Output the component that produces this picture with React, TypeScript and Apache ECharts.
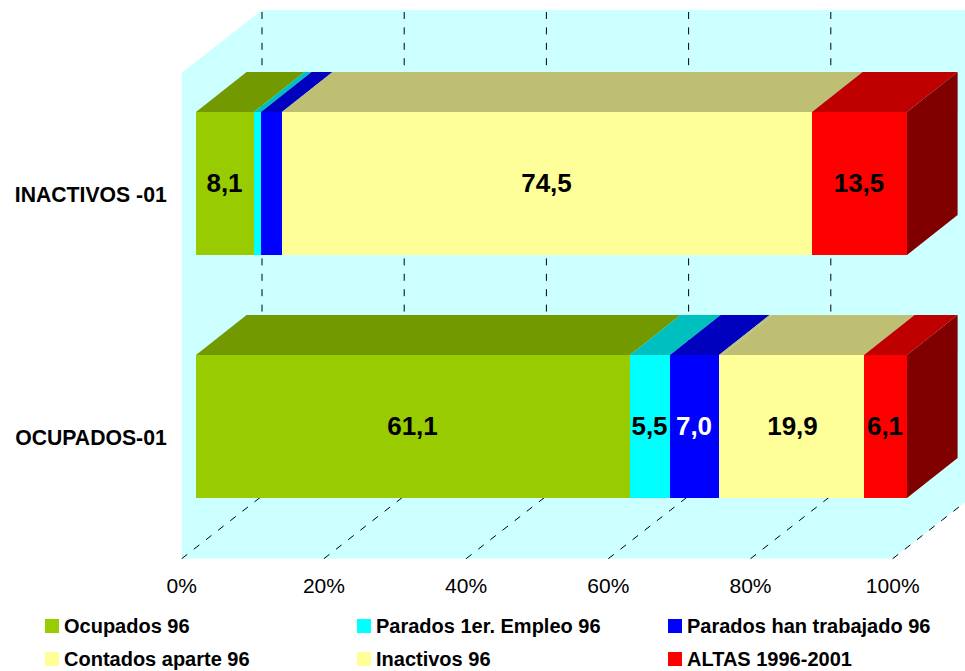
import React, { useEffect, useRef } from "react";
import * as echarts from "echarts";

// Bottom-to-top order of the horizontal bars
const categories = ["OCUPADOS-01", "INACTIVOS -01"];

const ocupados96 = [61.1, 8.1];
const paradosPrimerEmpleo96 = [5.5, 1.0];
const paradosHanTrabajado96 = [7.0, 3.0];
const contadosAparte96 = [0.4, 0];
const inactivos96 = [19.9, 74.5];
const altas = [6.1, 13.5];

const xTicks = [0, 20, 40, 60, 80, 100];

const segments = [
  { name: "Ocupados 96", values: ocupados96, front: "#99CC00", top: "#739900", label: "#000000" },
  { name: "Parados 1er. Empleo 96", values: paradosPrimerEmpleo96, front: "#00FFFF", top: "#00BFBF", label: "#000000" },
  { name: "Parados han trabajado 96", values: paradosHanTrabajado96, front: "#0000FF", top: "#0000BF", label: "#FFFFFF" },
  { name: "Contados aparte 96", values: contadosAparte96, front: "#FFFF99", top: "#BFBF73", label: "#000000" },
  { name: "Inactivos 96", values: inactivos96, front: "#FFFF99", top: "#BFBF73", label: "#000000" },
  { name: "ALTAS 1996-2001", values: altas, front: "#FF0000", top: "#BF0000", label: "#000000" },
];

// Oblique projection of the box: the full floor depth, and the part the bars occupy
const FLOOR_DX = 80.3;
const FLOOR_DY = 62.7;
const BAR_INSET_DX = 14.3;
const BAR_INSET_DY = 11;
const BAR_DX = 50.6;
const BAR_DY = 40;
const BAR_HEIGHT = 143;
const SIDE_COLOR = "#800000";
const WALL_COLOR = "#CCFFFF";
const WALL_TOP = 10;
const MIN_LABELLED = 5;
const FONT = "'Liberation Sans', Arial, sans-serif";

const formatValue = (v: number) => v.toFixed(1).replace(".", ",");

const renderWalls = (params: any, api: any) => {
  const { x, y, width, height } = params.coordSys;
  const floor = y + height;
  return {
    type: "polygon",
    silent: true,
    shape: {
      points: [
        [x, y],
        [x + FLOOR_DX, WALL_TOP],
        [x + width + FLOOR_DX, WALL_TOP],
        [x + width + FLOOR_DX, floor - FLOOR_DY],
        [x + width, floor],
        [x, floor],
      ],
    },
    style: { fill: WALL_COLOR },
  };
};

const renderGridLine = (params: any, api: any) => {
  const { y, height } = params.coordSys;
  const floor = y + height;
  const px = api.coord([api.value(0), 0])[0];
  const lineStyle = { stroke: "#000000", lineWidth: 1, lineDash: [7, 8.4], fill: "none" };
  return {
    type: "group",
    silent: true,
    children: [
      {
        type: "line",
        shape: { x1: px, y1: floor, x2: px + FLOOR_DX, y2: floor - FLOOR_DY },
        style: lineStyle,
      },
      {
        type: "line",
        shape: { x1: px + FLOOR_DX, y1: WALL_TOP + 2, x2: px + FLOOR_DX, y2: floor - FLOOR_DY },
        style: lineStyle,
      },
    ],
  };
};

const renderSegment = (seg: (typeof segments)[number], isLast: boolean) => (params: any, api: any) => {
  const start = api.value(0);
  const row = api.value(1);
  const value = api.value(2);
  const [x0, cy] = api.coord([start, row]);
  // The stack is a share of the total, so it stops at the 100% end of the axis
  const [x1] = api.coord([Math.min(start + value, 100), row]);
  // Whole-pixel edges keep the faces crisp
  const left = Math.round(x0 + BAR_INSET_DX);
  const right = Math.round(x1 + BAR_INSET_DX);
  const top = Math.round(cy - BAR_INSET_DY - BAR_HEIGHT / 2);
  const bottom = top + BAR_HEIGHT;
  const children: any[] = [];
  if (value > 0) {
    children.push({
      type: "polygon",
      shape: {
        points: [
          [left, top],
          [left + BAR_DX, top - BAR_DY],
          [right + BAR_DX, top - BAR_DY],
          [right, top],
        ],
      },
      style: { fill: seg.top },
    });
    children.push({
      type: "rect",
      shape: { x: left, y: top, width: right - left, height: BAR_HEIGHT },
      style: { fill: seg.front },
    });
  }
  if (isLast) {
    children.push({
      type: "polygon",
      shape: {
        points: [
          [right, top],
          [right + BAR_DX, top - BAR_DY],
          [right + BAR_DX, bottom - BAR_DY],
          [right, bottom],
        ],
      },
      style: { fill: SIDE_COLOR },
    });
  }
  if (value >= MIN_LABELLED) {
    children.push({
      type: "text",
      x: (left + right) / 2 - 0.5,
      y: (top + bottom) / 2 - 0.5,
      style: {
        text: formatValue(value),
        fill: seg.label,
        fontFamily: FONT,
        fontSize: 26,
        fontWeight: "bold",
        align: "center",
        verticalAlign: "middle",
      },
    });
  }
  return { type: "group", children };
};

const legendRows = (names: string[], left: number) => ({
  show: true,
  orient: "vertical" as const,
  left,
  top: 616,
  padding: 0,
  itemWidth: 14,
  itemHeight: 14,
  itemGap: 13,
  icon: "rect",
  data: names,
  textStyle: { fontFamily: FONT, fontSize: 20, fontWeight: "bold" as const, color: "#000000" },
  selectedMode: false,
});

export default function App() {
  const ref = useRef<HTMLDivElement>(null);

  useEffect(() => {
    if (!ref.current) return;
    const chart = echarts.init(ref.current, undefined, { renderer: "svg" });

    const running = categories.map(() => 0);
    const barSeries = segments.map((seg, i) => {
      const data = seg.values.map((v, row) => {
        const item = [running[row], row, v];
        running[row] += v;
        return item;
      });
      return {
        type: "custom" as const,
        name: seg.name,
        coordinateSystem: "cartesian2d",
        itemStyle: { color: seg.front },
        encode: { x: 0, y: 1 },
        renderItem: renderSegment(seg, i === segments.length - 1),
        data,
      };
    });

    chart.setOption({
      animation: false,
      backgroundColor: "#FFFFFF",
      grid: { left: 181.7, top: 72.7, width: 711, height: 486, containLabel: false },
      xAxis: {
        type: "value",
        min: 0,
        max: 100,
        interval: 20,
        axisLine: { show: false },
        axisTick: { show: false },
        splitLine: { show: false },
        axisLabel: {
          formatter: "{value}%",
          margin: 16,
          fontFamily: FONT,
          fontSize: 21,
          color: "#000000",
        },
      },
      yAxis: {
        type: "category",
        data: categories,
        axisLine: { show: false },
        axisTick: { show: false },
        splitLine: { show: false },
        axisLabel: {
          margin: 15,
          padding: [0, 0, 4, 0],
          fontFamily: FONT,
          fontSize: 21.2,
          fontWeight: "bold",
          color: "#000000",
        },
      },
      legend: [
        legendRows(["Ocupados 96", "Contados aparte 96"], 45),
        legendRows(["Parados 1er. Empleo 96", "Inactivos 96"], 357),
        legendRows(["Parados han trabajado 96", "ALTAS 1996-2001"], 668),
      ],
      series: [
        {
          type: "custom",
          silent: true,
          coordinateSystem: "cartesian2d",
          encode: { x: 0, y: 1 },
          renderItem: renderWalls,
          data: [[0, 0]],
        },
        {
          type: "custom",
          silent: true,
          coordinateSystem: "cartesian2d",
          encode: { x: 0, y: 1 },
          renderItem: renderGridLine,
          data: xTicks.map((t) => [t, 0]),
        },
        ...barSeries,
      ],
    });

    return () => chart.dispose();
  }, []);

  return <div ref={ref} style={{ position: "fixed", left: 0, top: 0, width: 965, height: 671 }} />;
}
